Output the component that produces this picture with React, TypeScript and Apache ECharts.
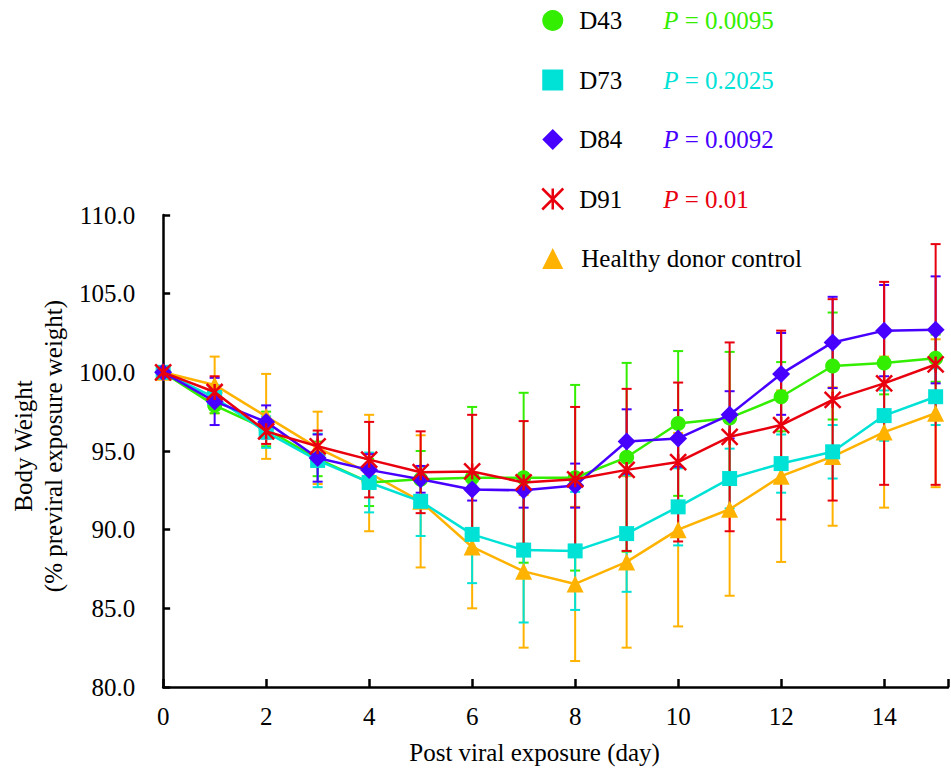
import React, { useEffect, useRef } from 'react';
import * as echarts from 'echarts';

const days = [0, 1, 2, 3, 4, 5, 6, 7, 8, 9, 10, 11, 12, 13, 14, 15];

const d43 = [100, 97.9, 96.4, 94.5, 93.0, 93.2, 93.3, 93.3, 93.3, 94.6, 96.75, 97.1, 98.45, 100.4, 100.6, 100.9];
const d43Sd = [0.2, 0.5, 1.1, 1.1, 1.5, 1.8, 4.5, 5.4, 5.9, 6.0, 4.6, 4.2, 2.2, 3.4, 2.0, 1.5];

const d73 = [100, 98.4, 96.2, 94.4, 93.0, 91.8, 89.7, 88.7, 88.65, 89.75, 91.45, 93.25, 94.2, 94.95, 97.25, 98.45];
const d73Sd = [0.2, 0.8, 1.0, 1.7, 1.9, 2.2, 3.1, 4.6, 3.75, 3.7, 2.45, 1.9, 1.85, 1.7, 1.6, 1.8];

const d84 = [100, 98.15, 96.85, 94.55, 93.8, 93.2, 92.55, 92.5, 92.8, 95.6, 95.8, 97.3, 99.9, 101.9, 102.65, 102.7];
const d84Sd = [0.2, 1.5, 1.05, 1.5, 1.0, 0.85, 0.7, 1.1, 1.4, 2.05, 1.8, 1.5, 2.6, 2.9, 2.9, 3.4];

const d91 = [100, 98.75, 96.25, 95.3, 94.45, 93.65, 93.7, 93.0, 93.2, 93.8, 94.3, 95.9, 96.65, 98.25, 99.3, 100.5];
const d91Sd = [0.2, 1.0, 0.8, 1.0, 2.4, 2.6, 3.6, 3.9, 4.6, 5.15, 5.05, 6.0, 6.0, 6.4, 6.45, 7.65];

const healthy = [100, 99.2, 97.2, 95.2, 93.6, 91.8, 88.9, 87.35, 86.55, 87.95, 90.0, 91.3, 93.4, 94.65, 96.2, 97.4];
const healthySd = [0.2, 1.8, 2.7, 2.3, 3.7, 4.2, 3.9, 4.85, 4.9, 5.45, 6.15, 5.5, 5.45, 4.4, 4.8, 4.7];

const seriesNames = ['D43', 'D73', 'D84', 'D91', 'Healthy donor control'];
const pValues = ['0.0095', '0.2025', '0.0092', '0.01', ''];

const xTicks = [0, 2, 4, 6, 8, 10, 12, 14];

const FONT = 'Liberation Serif';
const GREEN = '#33EE00';
const CYAN = '#00E2D6';
const BLUE = '#4700FF';
const RED = '#E8000E';
const ORANGE = '#FFB300';
const STAR = 'path://M0,0L20,20M20,0L0,20M10,0L10,20';

export default function App() {
  const ref = useRef<HTMLDivElement>(null);

  useEffect(() => {
    document.body.style.margin = '0';
    const chart = echarts.init(ref.current as HTMLDivElement, null, { renderer: 'svg' });

    const groups = [
      { name: seriesNames[0], values: d43, sd: d43Sd, color: GREEN, symbol: 'circle', size: 15, p: pValues[0], key: 'g' },
      { name: seriesNames[1], values: d73, sd: d73Sd, color: CYAN, symbol: 'rect', size: 15, p: pValues[1], key: 'c' },
      { name: seriesNames[2], values: d84, sd: d84Sd, color: BLUE, symbol: 'diamond', size: 18, p: pValues[2], key: 'b' },
      { name: seriesNames[3], values: d91, sd: d91Sd, color: RED, symbol: STAR, size: 16, p: pValues[3], key: 'r' },
      { name: seriesNames[4], values: healthy, sd: healthySd, color: ORANGE, symbol: 'triangle', size: 17, p: pValues[4], key: 'o' },
    ];

    // drawing order: orange bottom, then green, cyan, blue, red on top
    const drawOrder = [4, 0, 1, 2, 3];

    const errSeries = drawOrder.map((gi) => {
      const g = groups[gi];
      return {
        type: 'custom',
        name: g.name + ' SD',
        silent: true,
        clip: false,
        z: 1,
        encode: { x: 0, y: [1, 2] },
        data: days.map((d, i) => [d, g.values[i] - g.sd[i], g.values[i] + g.sd[i]]),
        renderItem: (params: any, api: any) => {
          const x = api.value(0);
          const top = api.coord([x, api.value(2)]);
          const bot = api.coord([x, api.value(1)]);
          const hw = 5;
          const st = { stroke: g.color, lineWidth: 2 };
          return {
            type: 'group',
            children: [
              { type: 'line', shape: { x1: top[0], y1: top[1], x2: bot[0], y2: bot[1] }, style: st },
              { type: 'line', shape: { x1: top[0] - hw, y1: top[1], x2: top[0] + hw, y2: top[1] }, style: st },
              { type: 'line', shape: { x1: bot[0] - hw, y1: bot[1], x2: bot[0] + hw, y2: bot[1] }, style: st },
            ],
          };
        },
      };
    });

    const lineSeries = drawOrder.map((gi, k) => {
      const g = groups[gi];
      return {
        type: 'line',
        name: g.name,
        z: 3 + k,
        clip: false,
        data: days.map((d, i) => [d, g.values[i]]),
        symbol: g.symbol,
        symbolSize: g.size,
        itemStyle:
          g.key === 'r'
            ? { color: g.color, borderColor: g.color, borderWidth: 2.5 }
            : { color: g.color, borderWidth: 0 },
        lineStyle: { color: g.color, width: 2.5 },
      };
    });

    const rich: any = {
      n: { fontFamily: FONT, fontSize: 25, color: '#000', width: 84, padding: [0, 0, 0, 11] },
      h: { fontFamily: FONT, fontSize: 25, color: '#000', padding: [0, 0, 0, 13] },
    };
    groups.forEach((g) => {
      rich['p' + g.key] = { fontFamily: FONT, fontSize: 25, color: g.color, fontStyle: 'italic' };
      rich['v' + g.key] = { fontFamily: FONT, fontSize: 25, color: g.color };
    });

    const option: any = {
      animation: false,
      backgroundColor: '#fff',
      textStyle: { fontFamily: FONT },
      grid: { left: 163, right: 0, top: 215, bottom: 85, containLabel: false },
      legend: {
        orient: 'vertical',
        left: 536,
        top: 3,
        itemWidth: 21,
        itemHeight: 21,
        itemGap: 34.5,
        selectedMode: false,
        data: groups.map((g) => ({
          name: g.name,
          icon: g.symbol,
          itemStyle:
            g.key === 'r'
              ? { color: g.color, borderColor: g.color, borderWidth: 2.5 }
              : { color: g.color, borderWidth: 0 },
        })),
        formatter: (name: string) => {
          const g = groups.find((x) => x.name === name)!;
          if (!g.p) return `{h|${name}}`;
          return `{n|${name}}{p${g.key}|P}{v${g.key}| = ${g.p}}`;
        },
        textStyle: { fontFamily: FONT, fontSize: 25, color: '#000', lineHeight: 24, rich },
      },
      xAxis: {
        type: 'value',
        min: 0,
        max: 15.24,
        interval: 2,
        name: 'Post viral exposure (day)',
        nameLocation: 'middle',
        nameGap: 53,
        nameTextStyle: { fontFamily: FONT, fontSize: 25, color: '#000', padding: [0, 42, 0, 0] },
        axisLine: { show: true, onZero: false, lineStyle: { color: '#000', width: 2.5 } },
        axisTick: { show: true, inside: true, length: 8, lineStyle: { color: '#000', width: 2.5 } },
        axisLabel: {
          margin: 17,
          fontFamily: FONT,
          fontSize: 25,
          color: '#000',
          formatter: (v: number) => (xTicks.indexOf(v) >= 0 ? String(v) : ''),
        },
        splitLine: { show: false },
      },
      yAxis: {
        type: 'value',
        min: 80,
        max: 110,
        interval: 5,
        name: 'Body Weight\n(% previral exposure weight)',
        nameLocation: 'middle',
        nameRotate: 90,
        nameGap: 92,
        nameTextStyle: { fontFamily: FONT, fontSize: 25, color: '#000', lineHeight: 30, padding: [0, 0, 0, 10] },
        axisLine: { show: true, onZero: false, lineStyle: { color: '#000', width: 2.5 } },
        axisTick: { show: true, inside: true, length: 7, lineStyle: { color: '#000', width: 2.5 } },
        axisLabel: {
          margin: 28,
          fontFamily: FONT,
          fontSize: 25,
          color: '#000',
          formatter: (v: number) => v.toFixed(1),
        },
        splitLine: { show: false },
      },
      series: [...errSeries, ...lineSeries],
    };

    chart.setOption(option);
    return () => chart.dispose();
  }, []);

  return <div ref={ref} style={{ width: 951, height: 772 }} />;
}
